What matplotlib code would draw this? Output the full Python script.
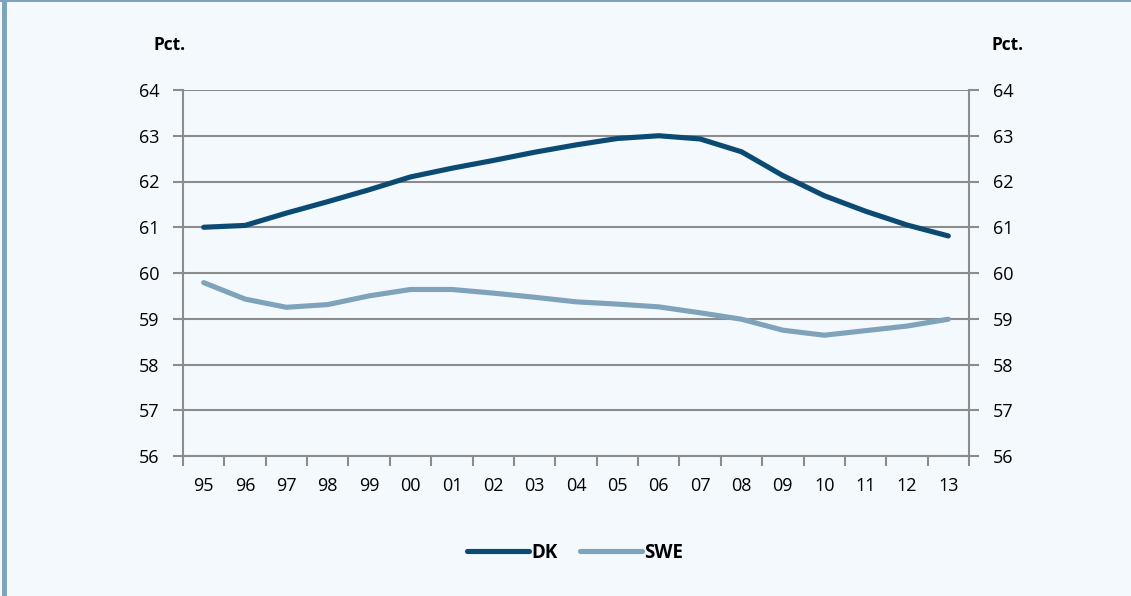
import matplotlib.pyplot as plt
from matplotlib.patches import Rectangle
from matplotlib.lines import Line2D

plt.rcParams['font.family'] = ['Open Sans', 'DejaVu Sans']

years = ['95', '96', '97', '98', '99', '00', '01', '02', '03', '04',
         '05', '06', '07', '08', '09', '10', '11', '12', '13']
dk = [61.0, 61.04, 61.31, 61.56, 61.82, 62.1, 62.29, 62.46, 62.64, 62.8,
      62.94, 63.0, 62.93, 62.65, 62.13, 61.69, 61.35, 61.05, 60.81]
swe = [59.79, 59.43, 59.25, 59.31, 59.5, 59.64, 59.64, 59.56, 59.47, 59.37,
       59.32, 59.26, 59.13, 58.99, 58.75, 58.64, 58.74, 58.84, 58.99]

bg = '#F4F9FD'
dk_col = '#0B4A72'
swe_col = '#7FA3BA'
grid_col = '#8C8C8C'

W, H = 1131, 596
fig = plt.figure(figsize=(W / 100, H / 100), dpi=100, facecolor=bg)

# frame decorations
fig.patches.append(Rectangle((2 / W, 0), 5 / W, 1, transform=fig.transFigure,
                             facecolor=swe_col, edgecolor='none'))
fig.patches.append(Rectangle((0, 1 - 2 / H), 1, 2 / H, transform=fig.transFigure,
                             facecolor=swe_col, edgecolor='none'))

ax = fig.add_axes([183 / W, 1 - 456 / H, (969 - 183) / W, (456 - 90) / H])
ax.set_facecolor(bg)
x = list(range(len(years)))
ax.plot(x, dk, color=dk_col, lw=3.7, solid_capstyle='round', zorder=3)
ax.plot(x, swe, color=swe_col, lw=3.7, solid_capstyle='round', zorder=3)

ax.set_xlim(-0.5, len(years) - 0.5)
ax.set_ylim(56, 64)
ax.set_yticks(range(56, 65))
ax.yaxis.grid(True, color=grid_col, lw=1.5)
ax.set_axisbelow(True)

ax.set_xticks([i - 0.5 for i in range(len(years) + 1)])
ax.set_xticklabels([])
ax.set_xticks(x, minor=True)
ax.set_xticklabels(years, minor=True, fontsize=13)
ax.tick_params(axis='x', which='major', length=7, width=1.5, color=grid_col, direction='out')
ax.tick_params(axis='x', which='minor', length=0, pad=15)
ax.tick_params(axis='y', length=7, width=1.5, color=grid_col, labelsize=13, pad=10,
               left=True, right=True, labelleft=True, labelright=True)

for s in ['left', 'right', 'bottom']:
    ax.spines[s].set_color(grid_col)
    ax.spines[s].set_linewidth(1.5)
ax.spines['top'].set_visible(False)

fig.text(170 / W, 1 - 45 / H, 'Pct.', fontsize=12.5, fontweight='bold',
         ha='center', va='center')
fig.text(1008 / W, 1 - 45 / H, 'Pct.', fontsize=12.5, fontweight='bold',
         ha='center', va='center')

handles = [Line2D([], [], color=dk_col, lw=3.7, solid_capstyle='round'),
           Line2D([], [], color=swe_col, lw=3.7, solid_capstyle='round')]
fig.legend(handles, ['DK', 'SWE'], loc='center', bbox_to_anchor=(575 / W, 1 - 553 / H),
           ncol=2, frameon=False, handlelength=3.3, handletextpad=0.1, columnspacing=1.2,
           prop={'weight': 'bold', 'size': 13.5})

fig.savefig('out.png', dpi=100, facecolor=bg)
